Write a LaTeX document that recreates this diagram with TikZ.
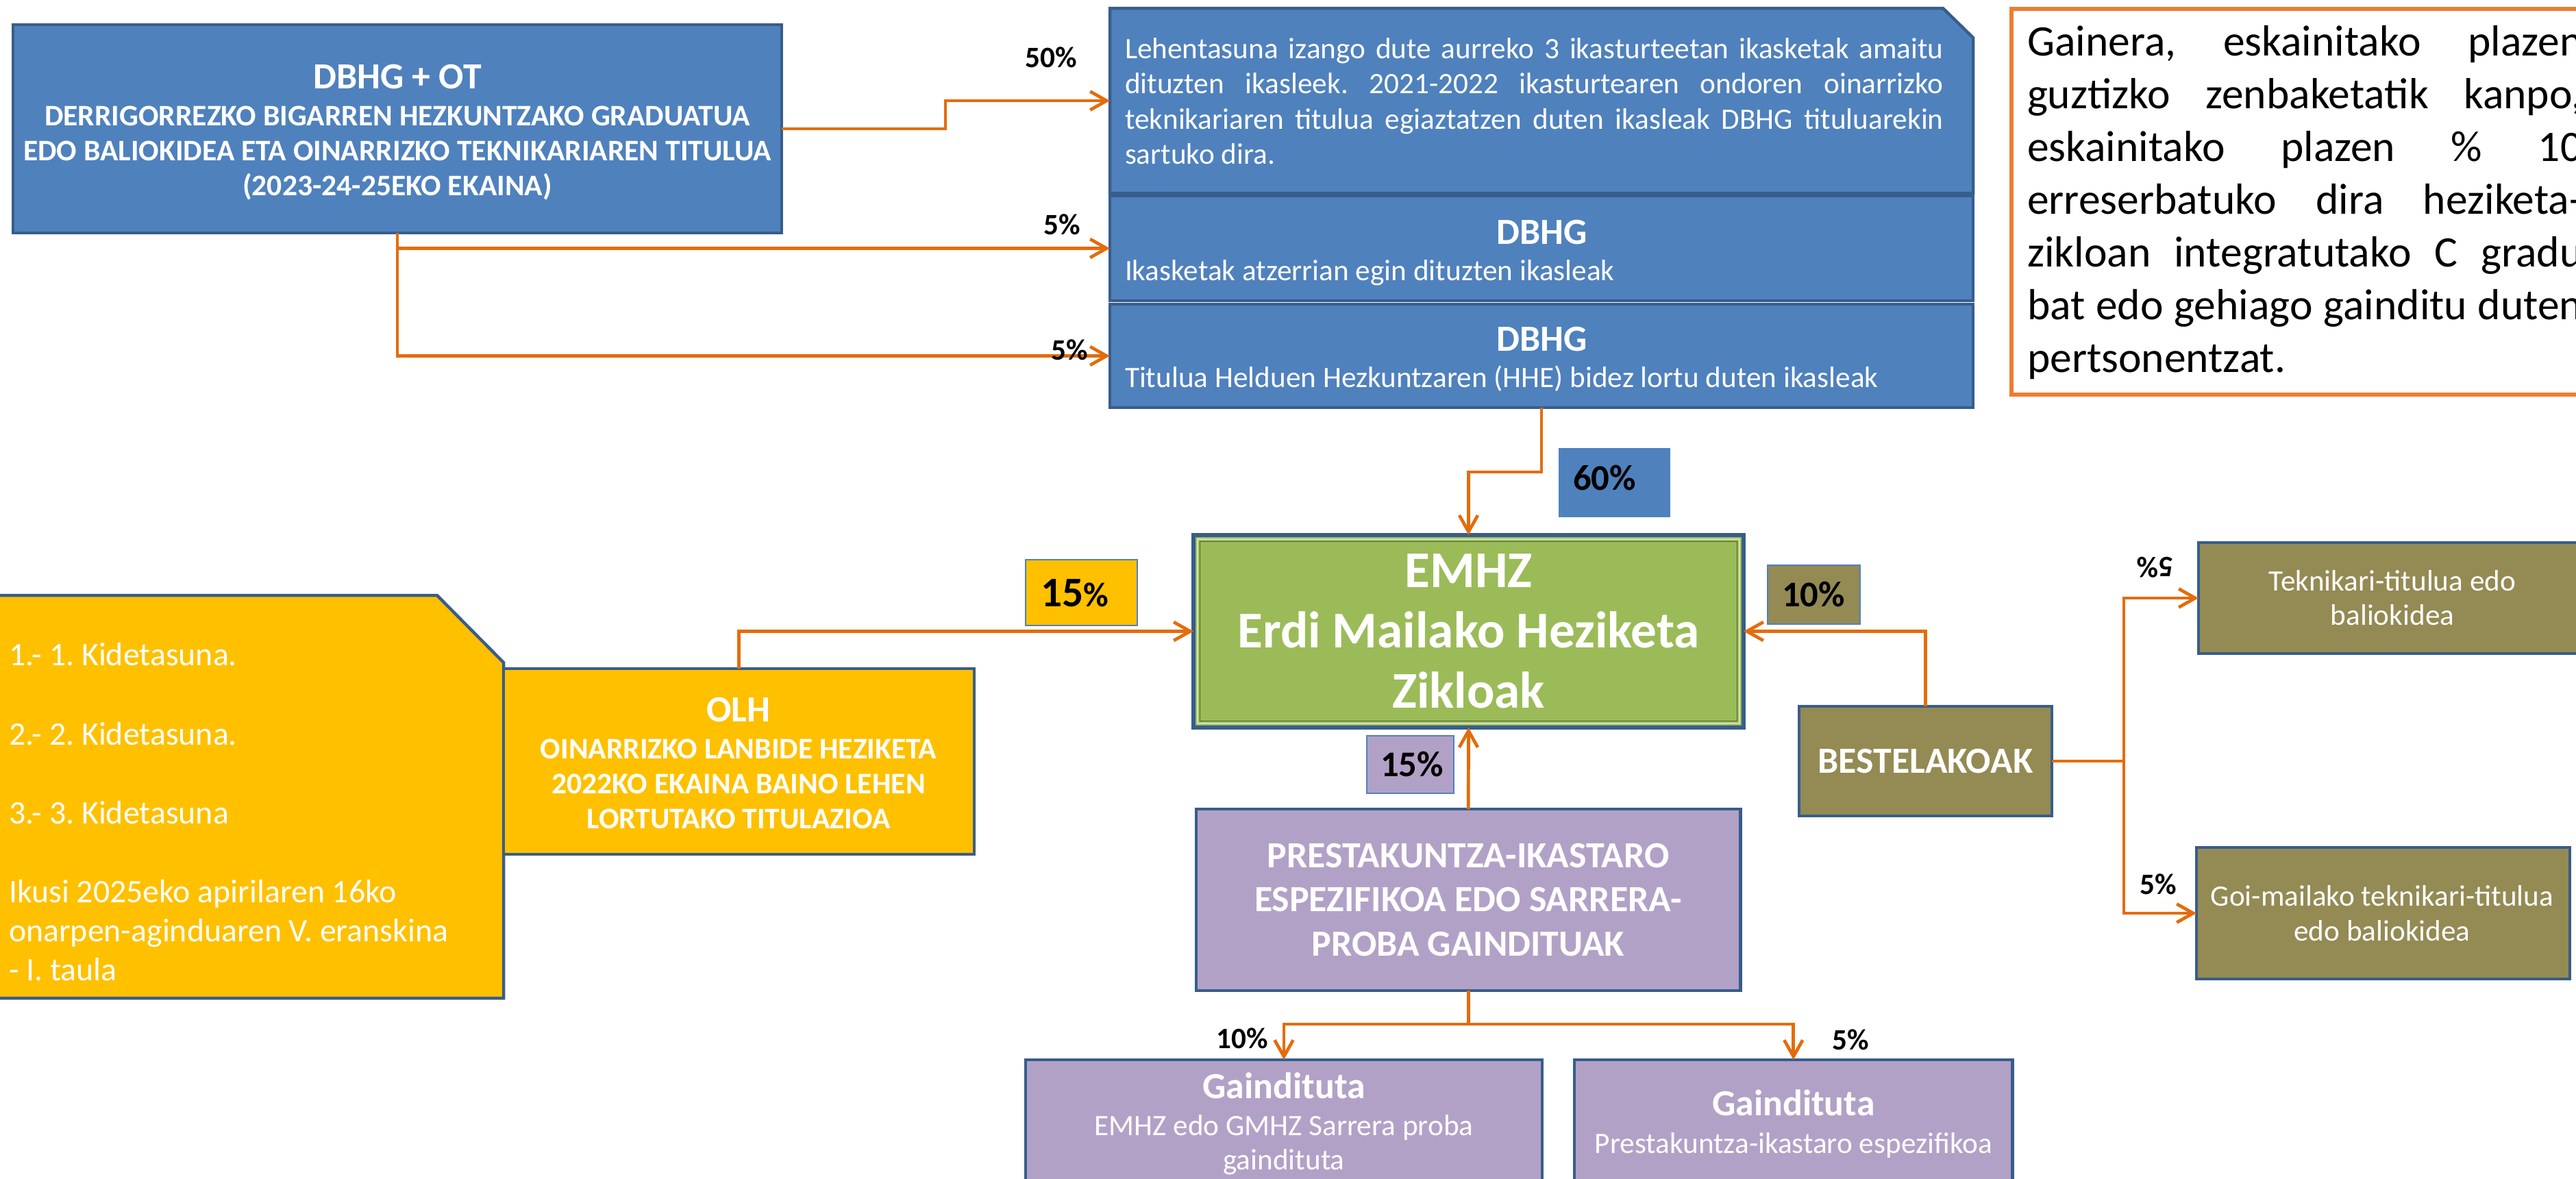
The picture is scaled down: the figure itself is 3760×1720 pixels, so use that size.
\documentclass[tikz,border=0pt]{standalone}
\usepackage{fontspec}
\setmainfont{Carlito}
\frenchspacing
\usetikzlibrary{arrows.meta}
\definecolor{cblue}{HTML}{4F81BD}
\definecolor{cbord}{HTML}{385D8A}
\definecolor{cyel}{HTML}{FFC000}
\definecolor{cgreen}{HTML}{9BBB59}
\definecolor{cgreenlt}{HTML}{D7E4BD}
\definecolor{cgreendk}{HTML}{4F6228}
\definecolor{cpurp}{HTML}{B2A1C7}
\definecolor{colive}{HTML}{948A54}
\definecolor{corange}{HTML}{E46C0A}
\definecolor{cobox}{HTML}{ED7D31}
\newcommand\fTitle{\fontsize{15.3}{18}\selectfont\bfseries}
\newcommand\fSub{\fontsize{12.4}{14}\selectfont\bfseries}
\newcommand\fReg{\fontsize{12.3}{14}\selectfont}
\newcommand\fYel{\fontsize{13.6}{16}\selectfont}
\newcommand\fBig{\fontsize{21.4}{25}\selectfont\bfseries}
\newcommand\fNote{\fontsize{18.07}{22}\selectfont}
\newcommand\fPct{\fontsize{12.3}{14}\selectfont\bfseries}
\newcommand\fLbl{\fontsize{15}{17}\selectfont\bfseries}
\newcommand\mybox[6]{\node[#1, anchor=north west, minimum width={(#5-#3)*0.01cm}, minimum height={(#6-#4)*0.01cm}] (#2) at (#3,#4) {};}
\tikzset{
  boxbase/.style={inner sep=0pt, outer sep=0pt, line width=0.045cm},
  bluebox/.style={boxbase, fill=cblue, draw=cbord},
  yelbox/.style={boxbase, fill=cyel, draw=cbord},
  greenbox/.style={boxbase, fill=cgreen, draw=cbord, line width=0.066cm},
  olivebox/.style={boxbase, fill=colive, draw=cbord},
  purpbox/.style={boxbase, fill=cpurp, draw=cbord},
  notebox/.style={boxbase, fill=white, draw=cobox, line width=0.065cm},
  lblbox/.style={boxbase, draw=cblue, line width=0.02cm},
  conn/.style={draw=corange, line width=0.047cm, -{Straight Barb[length=0.24cm,width=0.27cm]}},
  txt/.style={inner sep=0pt, outer sep=0pt, text=white},
  lc/.style={txt, anchor=base},
  ll/.style={txt, anchor=base west},
  pct/.style={inner sep=0pt, outer sep=0pt, anchor=base, text=black, font=\fPct},
  lbl/.style={inner sep=0pt, outer sep=0pt, anchor=base, text=black, font=\fLbl},
}
\begin{document}
\begin{tikzpicture}[x=0.01cm, y=-0.01cm]
\useasboundingbox (0,0) rectangle (3760,1720);
\clip (0,0) rectangle (3760,1720);
\fill[white] (0,0) rectangle (3760,1720);

% ---- top-left box
\mybox{bluebox}{A}{19}{36}{1141}{340}
\node[lc,font=\fTitle] (A1) at (580,129.5) {DBHG + OT};
\node[lc,font=\fSub] (A2) at (580,183.5) {DERRIGORREZKO BIGARREN HEZKUNTZAKO GRADUATUA};
\node[lc,font=\fSub] (A3) at (580,234) {EDO BALIOKIDEA ETA OINARRIZKO TEKNIKARIAREN TITULUA};
\node[lc,font=\fSub] (A4) at (580,285.5) {(2023-24-25EKO EKAINA)};

% ---- stacked blue boxes
\mybox{boxbase}{B1}{1620}{12}{2880}{282}
\draw[fill=cblue, draw=cbord, line width=0.045cm] (B1.north west) -- ([xshift=-0.44cm]B1.north east) -- ([yshift=-0.43cm]B1.north east) -- (B1.south east) -- (B1.south west) -- cycle;
\node[ll,font=\fReg] (B1a) at (1642,85) {\makebox[11.94cm][s]{Lehentasuna izango dute aurreko 3 ikasturteetan ikasketak amaitu}};
\node[ll,font=\fReg] (B1b) at (1642,136.5) {\makebox[11.94cm][s]{dituzten ikasleek. 2021-2022 ikasturtearen ondoren oinarrizko}};
\node[ll,font=\fReg] (B1c) at (1642,188) {\makebox[11.94cm][s]{teknikariaren titulua egiaztatzen duten ikasleak DBHG tituluarekin}};
\node[ll,font=\fReg] (B1d) at (1642,239.5) {sartuko dira.};

\mybox{bluebox}{B2}{1620}{286}{2880}{439}
\node[lc,font=\fTitle] (B2a) at (2251,356.5) {DBHG};
\node[ll,font=\fReg] (B2b) at (1642,409.5) {Ikasketak atzerrian egin dituzten ikasleak};

\mybox{bluebox}{B3}{1620}{444}{2880}{595}
\node[lc,font=\fTitle] (B3a) at (2251,512.5) {DBHG};
\node[ll,font=\fReg] (B3b) at (1642,565.5) {Titulua Helduen Hezkuntzaren (HHE) bidez lortu duten ikasleak};

% ---- note box
\mybox{notebox}{N}{2936}{13}{3795}{576}
\node[ll,text=black,font=\fNote] (N1) at (2959,81.5) {\makebox[8.1cm][s]{Gainera, eskainitako plazen}};
\node[ll,text=black,font=\fNote] (N2) at (2959,158.5) {\makebox[8.1cm][s]{guztizko zenbaketatik kanpo,}};
\node[ll,text=black,font=\fNote] (N3) at (2959,235.5) {\makebox[8.1cm][s]{eskainitako plazen \% 10}};
\node[ll,text=black,font=\fNote] (N4) at (2959,312.5) {\makebox[8.1cm][s]{erreserbatuko dira heziketa-}};
\node[ll,text=black,font=\fNote] (N5) at (2959,389.5) {\makebox[8.1cm][s]{zikloan integratutako C gradu}};
\node[ll,text=black,font=\fNote] (N6) at (2959,466.5) {\makebox[8.1cm][s]{bat edo gehiago gainditu duten}};
\node[ll,text=black,font=\fNote] (N7) at (2959,543.5) {pertsonentzat.};

% ---- yellow shape
\mybox{boxbase}{Y}{0}{869}{735}{1457}
\draw[fill=cyel, draw=cbord, line width=0.045cm] ([xshift=-0.3cm]Y.north west) -- ([xshift=-0.97cm]Y.north east) -- ([yshift=-0.98cm]Y.north east) -- (Y.south east) -- ([xshift=-0.3cm]Y.south west) -- cycle;
\node[ll,font=\fYel] (Y1) at (13,971) {1.- 1. Kidetasuna.};
\node[ll,font=\fYel] (Y2) at (13,1087) {2.- 2. Kidetasuna.};
\node[ll,font=\fYel] (Y3) at (13,1202) {3.- 3. Kidetasuna};
\node[ll,font=\fYel] (Y4) at (13,1317) {Ikusi 2025eko apirilaren 16ko};
\node[ll,font=\fYel] (Y5) at (13,1374) {onarpen-aginduaren V. eranskina};
\node[ll,font=\fYel] (Y6) at (13,1431) {- I. taula};

% ---- OLH
\mybox{yelbox}{O}{735}{976}{1422}{1247}
\node[lc,font=\fTitle] (O1) at (1078,1053) {OLH};
\node[lc,font=\fSub] (O2) at (1078,1107.5) {OINARRIZKO LANBIDE HEZIKETA};
\node[lc,font=\fSub] (O3) at (1078,1158) {2022KO EKAINA BAINO LEHEN};
\node[lc,font=\fSub] (O4) at (1078,1209) {LORTUTAKO TITULAZIOA};

% ---- EMHZ
\mybox{greenbox}{E}{1742}{781}{2545}{1062}
\draw[cgreenlt, line width=0.02cm] ([shift={(0.06cm,-0.06cm)}]E.north west) rectangle ([shift={(-0.06cm,0.06cm)}]E.south east);
\draw[cgreendk, line width=0.015cm] ([shift={(0.095cm,-0.095cm)}]E.north west) rectangle ([shift={(-0.095cm,0.095cm)}]E.south east);
\node[lc,font=\fBig] (E1) at (2143.5,857) {EMHZ};
\node[lc,font=\fBig] (E2) at (2143.5,945) {Erdi Mailako Heziketa};
\node[lc,font=\fBig] (E3) at (2143.5,1033) {Zikloak};

% ---- BESTELAKOAK and right boxes
\mybox{olivebox}{Be}{2626}{1031}{2995}{1191}
\node[lc,font=\fTitle] (Be1) at (2810.5,1128.5) {BESTELAKOAK};
\mybox{olivebox}{Tek}{3209}{792}{3780}{954}
\node[lc,font=\fReg] (Tek1) at (3492,862) {Teknikari-titulua edo};
\node[lc,font=\fReg] (Tek2) at (3492,912) {baliokidea};
\mybox{olivebox}{Goi}{3206}{1237}{3751}{1429}
\node[lc,font=\fReg] (Goi1) at (3477,1322) {Goi-mailako teknikari-titulua};
\node[lc,font=\fReg] (Goi2) at (3477,1373) {edo baliokidea};

% ---- PRESTAKUNTZA and bottom boxes
\mybox{purpbox}{P}{1746}{1181}{2540.5}{1446}
\node[lc,font=\fTitle] (P1) at (2143,1266) {PRESTAKUNTZA-IKASTARO};
\node[lc,font=\fTitle] (P2) at (2143,1330.5) {ESPEZIFIKOA EDO SARRERA-};
\node[lc,font=\fTitle] (P3) at (2143,1395) {PROBA GAINDITUAK};
\mybox{purpbox}{G1}{1497}{1547}{2251}{1745}
\node[lc,font=\fontsize{15.3}{18}\selectfont\bfseries] (G1a) at (1874,1603) {Gaindituta};
\node[lc,font=\fReg] (G1b) at (1874,1657) {EMHZ edo GMHZ Sarrera proba};
\node[lc,font=\fReg] (G1c) at (1874,1707) {gaindituta};
\mybox{purpbox}{G2}{2298}{1547}{2937.5}{1745}
\node[lc,font=\fontsize{15.3}{18}\selectfont\bfseries] (G2a) at (2617.75,1628) {Gaindituta};
\node[lc,font=\fReg] (G2b) at (2617.75,1683) {Prestakuntza-ikastaro espezifikoa};

% ---- label boxes
\mybox{lblbox,fill=cyel}{L15a}{1497}{817}{1660}{913}
\node[lbl] (L15at) at (1569,885) {{\fontsize{17.5}{20}\selectfont 15}{\fontsize{14.3}{17}\selectfont\%}};
\mybox{lblbox,fill=cblue}{L60}{2276}{655}{2437}{754}
\node[lbl] (L60t) at (2342,715) {60\%};
\mybox{lblbox,fill=colive}{L10}{2580}{825}{2715}{910.5}
\node[lbl] (L10t) at (2647,885) {10\%};
\mybox{lblbox,fill=cpurp}{L15b}{1995}{1074}{2121.5}{1158}
\node[lbl] (L15bt) at (2061,1133) {15\%};

% ---- connectors
\draw[conn] (A.east) -- ++(239,0) |- (B1.west);
\draw[conn] (A.south) |- (B3.west);
\draw[conn] (A.south |- B2.west) -- (B2.west);
\draw[conn] (B3.south) -- ++(0,94) -| (E.north);
\draw[conn] (O.north) |- (E.west);
\draw[conn] (Be.north) |- (E.east);
\draw[conn] (P.north) -- (E.south);
\draw[conn] (Be.east) -- ++(105,0) |- (Tek.west);
\draw[conn] (Be.east) -- ++(105,0) |- (Goi.west);
\draw[conn] (P.south) -- ++(0,49) -| (G1.north);
\draw[conn] (P.south) -- ++(0,49) -| (G2.north);

% ---- percentage labels
\node[pct] (p50) at (1534,98) {50\%};
\node[pct] (p5a) at (1550,342) {5\%};
\node[pct] (p5b) at (1561,525) {5\%};
\node[pct] (p10) at (1813,1530) {10\%};
\node[pct] (p5c) at (2701,1532) {5\%};
\node[pct] (p5d) at (3150,1305) {5\%};
\node[pct, anchor=center, rotate=180] (p5e) at (3146,828) {5\%};
\end{tikzpicture}
\end{document}
